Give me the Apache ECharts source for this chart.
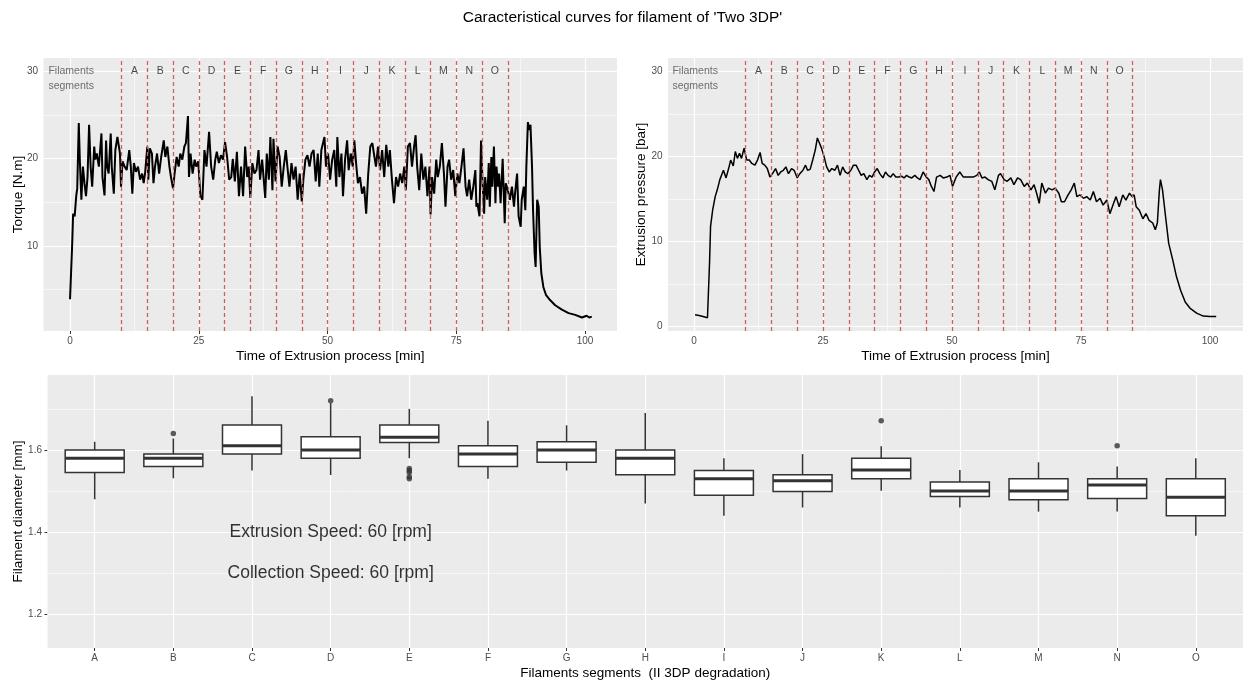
<!DOCTYPE html>
<html>
<head>
<meta charset="utf-8">
<script src="https://cdn.jsdelivr.net/npm/echarts@6/dist/echarts.min.js"></script>
<style>html,body{margin:0;padding:0;background:#fff}#chart{width:1245px;height:686px}</style>
</head>
<body>
<div id="chart"></div>
<script>
// ---------------- DATA ----------------
const titleText = "Caracteristical curves for filament of 'Two 3DP'";

const torqueTime = [0,0.4,0.6,0.9,1.2,1.4,1.7,1.9,2.2,2.5,2.8,3.1,3.4,3.7,4.0,4.3,4.7,4.9,5.2,5.6,6.1,6.3,6.7,7.0,7.2,7.5,7.9,8.1,8.5,8.8,9.2,9.4,9.7,9.9,10.2,10.6,11.0,11.5,11.8,12.1,12.4,12.8,13.2,13.6,14.0,14.3,14.6,15.0,15.2,15.5,15.9,16.2,16.5,16.9,17.3,17.7,18.2,18.5,18.9,19.3,19.6,20.0,20.3,20.7,21.1,21.4,21.8,22.2,22.5,22.9,23.1,23.4,23.8,24.2,24.5,24.9,25.3,25.7,26.1,26.5,27.0,27.4,27.8,28.2,28.5,28.9,29.3,29.7,30.1,30.5,30.9,31.3,31.6,32.0,32.4,32.8,33.2,33.6,34.0,34.4,34.7,35.0,35.4,35.8,36.2,36.6,36.9,37.3,37.9,38.2,38.6,38.9,39.3,39.5,39.9,40.3,40.7,41.1,41.5,41.9,42.2,42.6,43.0,43.4,43.8,44.2,44.6,45.0,45.3,45.7,46.1,46.5,46.9,47.3,47.7,48.1,48.4,48.8,49.4,49.7,50.1,50.5,50.9,51.3,51.7,51.9,52.3,52.7,53.0,53.4,53.8,54.1,54.5,54.9,55.2,55.6,55.9,56.3,56.7,57.1,57.5,57.9,58.3,58.7,59.0,59.4,59.8,60.2,60.6,61.0,61.4,61.8,62.1,62.5,62.9,63.3,63.7,64.1,64.5,64.9,65.2,65.6,66.0,66.4,66.8,67.1,67.4,67.8,68.2,68.6,69.0,69.4,69.8,70.0,70.3,70.7,71.1,71.4,71.8,72.2,72.6,72.9,73.3,73.6,74.0,74.4,74.8,75.2,75.6,76.0,76.4,76.8,77.1,77.5,77.9,78.3,78.7,78.9,79.1,79.5,79.8,80.1,80.4,80.6,81.0,81.3,81.5,81.8,82.0,82.3,82.6,82.8,83.1,83.3,83.6,84.0,84.4,84.6,85.0,85.4,85.8,86.2,86.4,86.8,87.1,87.5,87.7,88.1,88.4,88.6,88.9,89.1,89.4,89.7,89.9,90.2,90.4,90.7,91.0,91.2,91.5,91.9,92.4,93.2,94.2,95.5,96.8,98.1,99.4,100.3,100.8,101.3];
const torqueValue = [3.9,9.9,13.7,13.4,15.7,16.6,24.1,19.9,15.3,19.1,17.2,15.7,17.9,23.9,19.1,16.8,21.4,19.9,20.6,19.1,22.9,17.9,15.8,22.1,19.1,18.3,22.9,19.1,16.0,21.0,22.5,22.7,20.6,16.8,19.7,19.1,18.7,21.0,19.1,16.0,19.5,18.5,19.1,17.6,18.3,17.2,18.5,21.4,17.6,21.2,20.6,17.2,19.1,20.6,18.3,20.2,22.1,20.2,21.4,19.1,17.9,16.6,18.3,20.2,19.1,20.6,19.9,21.4,21.8,24.9,17.9,20.6,18.3,19.9,19.1,19.7,15.8,15.3,21.0,19.1,23.1,19.1,17.6,19.9,20.8,19.5,20.4,19.9,21.9,20.2,17.6,17.9,20.0,17.4,20.8,15.7,19.1,15.7,21.4,17.9,19.1,15.5,19.5,18.3,18.7,21.0,17.6,19.9,15.5,20.6,17.6,22.5,16.4,22.3,17.4,21.4,20.2,16.8,19.1,21.0,19.1,16.8,19.5,17.6,19.1,15.3,18.3,15.1,17.6,19.9,20.4,19.1,20.6,21.0,17.4,20.6,16.8,21.0,22.5,19.1,20.6,17.6,19.9,21.0,16.8,22.5,17.9,20.6,15.7,19.9,22.1,18.7,20.6,19.1,22.1,19.1,17.2,17.9,16.0,16.8,13.7,18.3,21.4,21.8,20.6,19.1,21.4,18.7,21.0,17.9,21.6,19.1,21.0,17.6,14.9,17.9,16.8,18.3,17.2,19.1,16.4,21.4,21.8,19.1,21.4,22.7,19.1,16.4,20.6,17.6,19.1,15.7,19.1,13.6,17.9,16.0,19.9,17.9,19.1,21.8,18.3,14.5,19.1,19.9,17.6,18.7,15.7,18.3,17.2,19.1,21.2,16.8,15.7,17.6,15.3,16.8,18.7,14.5,14.9,13.4,22.1,17.2,13.7,17.9,15.3,19.5,14.5,20.2,16.8,21.4,14.9,19.1,16.8,18.3,14.9,20.0,12.6,17.2,16.4,15.3,16.8,14.5,16.0,18.3,13.4,12.2,15.3,16.8,14.1,19.1,24.2,23.3,23.9,19.1,14.1,9.2,7.6,15.3,14.5,9.9,6.9,5.3,4.4,3.8,3.2,2.7,2.3,2.1,1.8,2.0,1.8,1.9];

const pressureTime = [0.2,1.2,2.6,3.0,3.2,3.6,4.1,4.5,5.0,5.7,6.2,6.7,7.1,7.6,8.0,8.4,8.8,9.2,9.7,10.2,10.7,11.2,11.8,12.3,12.8,13.2,13.7,14.2,14.7,15.2,15.8,16.3,16.8,17.3,17.8,18.3,18.9,19.4,20.0,20.5,21.1,21.6,22.0,22.5,23.0,23.5,23.9,24.3,24.7,25.2,25.7,26.2,26.7,27.3,27.8,28.3,28.8,29.3,29.8,30.4,30.9,31.4,31.9,32.4,32.9,33.5,34.0,34.5,35.0,35.5,36.0,36.6,37.1,37.6,38.1,38.6,39.1,39.7,40.2,40.7,41.2,41.7,42.2,42.8,43.3,43.8,44.4,45.0,45.5,46.0,46.5,47.0,47.7,48.3,49.0,49.6,50.1,50.8,51.5,52.2,53.2,54.1,54.8,55.3,55.8,56.4,57.0,57.7,58.3,59.0,59.4,60.1,60.7,61.4,62.0,62.7,63.3,64.0,64.6,65.3,65.9,66.4,66.9,67.4,68.1,68.7,69.4,70.0,70.7,71.2,71.8,72.5,73.1,73.7,74.2,74.8,75.5,76.1,76.8,77.4,78.0,78.7,79.3,80.0,80.6,81.3,81.8,82.4,83.1,83.7,84.4,84.9,85.3,85.7,86.3,87.0,87.6,88.2,88.9,89.4,89.8,90.2,90.4,90.8,91.4,92.0,92.8,93.5,94.3,95.2,96.1,97.4,98.7,100.0,101.2];
const pressureValue = [1.4,1.3,1.05,7.5,11.8,13.7,15.3,16.1,17.3,18.4,17.5,18.6,19.6,18.9,20.6,19.8,20.4,19.8,21.0,19.6,19.6,19.2,19.0,19.6,20.5,19.2,19.0,18.6,17.6,18.0,18.6,17.8,18.2,18.4,18.8,18.0,18.6,18.4,17.5,18.0,18.4,19.0,18.4,18.5,19.6,20.8,22.2,21.6,21.0,20.0,18.8,18.2,18.6,18.4,19.0,17.8,18.8,18.2,18.0,18.4,19.0,19.0,18.4,17.8,18.0,17.3,17.8,17.6,18.2,18.6,18.0,17.5,18.2,17.8,17.6,18.0,17.6,17.6,17.7,17.5,17.8,17.6,17.5,17.8,17.5,17.3,18.2,17.6,17.3,16.5,15.9,17.6,17.8,17.5,17.6,17.8,16.5,17.6,18.2,17.6,17.6,17.6,17.8,18.2,17.5,17.6,17.3,17.1,16.1,17.8,18.0,17.3,17.1,17.5,16.7,17.5,17.3,16.5,16.9,16.1,16.7,15.7,14.5,16.9,15.7,16.3,16.1,16.3,15.7,14.7,14.7,15.5,16.1,16.9,15.3,15.5,15.1,15.3,14.9,15.9,14.7,15.1,14.3,14.9,13.3,14.5,15.3,14.1,15.5,14.9,15.7,15.3,15.5,14.1,13.7,12.7,13.3,12.5,12.2,11.4,12.2,16.1,17.3,16.1,12.9,9.8,7.8,5.9,4.3,2.9,2.2,1.6,1.25,1.2,1.2];

const segmentBounds = [10,15,20,25,30,35,40,45,50,55,60,65,70,75,80,85];
const segmentLetters = ['A','B','C','D','E','F','G','H','I','J','K','L','M','N','O'];
const timeTicks = [0,25,50,75,100];
const timeMinor = [12.5,37.5,62.5,87.5];
const torqueTicks = [10,20,30];
const torqueMinor = [5,15,25];
const pressureTicks = [0,10,20,30];
const pressureMinor = [5,15,25];

const boxCategories = ['A','B','C','D','E','F','G','H','I','J','K','L','M','N','O'];
const boxLow  = [1.480,1.531,1.550,1.539,1.580,1.530,1.550,1.470,1.440,1.460,1.501,1.460,1.450,1.450,1.391];
const boxQ1   = [1.545,1.560,1.590,1.580,1.618,1.560,1.570,1.540,1.490,1.499,1.530,1.487,1.479,1.482,1.440];
const boxMed  = [1.580,1.580,1.610,1.600,1.631,1.590,1.600,1.580,1.530,1.525,1.551,1.500,1.500,1.515,1.485];
const boxQ3   = [1.600,1.590,1.661,1.632,1.661,1.610,1.620,1.600,1.550,1.540,1.580,1.522,1.530,1.530,1.530];
const boxHigh = [1.620,1.628,1.731,1.714,1.700,1.671,1.660,1.690,1.580,1.590,1.609,1.551,1.570,1.560,1.580];
const outlierCat   = ['B','D','E','E','E','E','E','K','N'];
const outlierValue = [1.640,1.720,1.555,1.550,1.545,1.535,1.530,1.671,1.610];
const diamTicks = [1.2,1.4,1.6];
const diamMinor = [1.3,1.5,1.7];
const annotations = [['Extrusion Speed: 60 [rpm]', 'D', 1.4], ['Collection Speed: 60 [rpm]', 'D', 1.3]];

// ---------------- BUILD ----------------
const FONT = 'Liberation Sans, Arial, Helvetica, sans-serif';
const torquePairs = torqueTime.map((t, i) => [t, torqueValue[i]]);
const pressurePairs = pressureTime.map((t, i) => [t, pressureValue[i]]);
const catPos = c => boxCategories.indexOf(c) + 1;

function gridLineData(xMaj, xMin, yMaj, yMin) {
  const d = [];
  xMin.forEach(v => d.push({xAxis: v, lineStyle: {width: 0.6}}));
  yMin.forEach(v => d.push({yAxis: v, lineStyle: {width: 0.6}}));
  xMaj.forEach(v => d.push({xAxis: v, lineStyle: {width: 1.2}}));
  yMaj.forEach(v => d.push({yAxis: v, lineStyle: {width: 1.2}}));
  return d;
}
function gridSeries(idx, xMaj, xMin, yMaj, yMin) {
  return {
    type: 'line', xAxisIndex: idx, yAxisIndex: idx, data: [], z: 1, silent: true,
    markLine: {
      z: 1, silent: true, symbol: ['none', 'none'], animation: false,
      label: {show: false}, emphasis: {disabled: true},
      lineStyle: {color: '#ffffff', type: 'solid'},
      data: gridLineData(xMaj, xMin, yMaj, yMin)
    }
  };
}
function segmentMark() {
  return {
    z: 4, silent: true, symbol: ['none', 'none'], animation: false,
    label: {show: false}, emphasis: {disabled: true},
    lineStyle: {color: '#CD6060', type: [4, 3], width: 1.3},
    data: segmentBounds.map(v => ({xAxis: v}))
  };
}
function letterSeries(idx) {
  const data = segmentLetters.map((l, i) => [(segmentBounds[i] + segmentBounds[i + 1]) / 2, 30, l]);
  return [{
    type: 'scatter', xAxisIndex: idx, yAxisIndex: idx, z: 6, silent: true,
    symbolSize: 0.1, itemStyle: {color: 'transparent'},
    data: data,
    label: {show: true, position: 'inside', formatter: p => p.data[2], fontFamily: FONT, fontSize: 10.5, color: '#1a1a1a'}
  }, {
    type: 'scatter', xAxisIndex: idx, yAxisIndex: idx, z: 6, silent: true,
    symbolSize: 0.1, itemStyle: {color: 'transparent'},
    data: [[-4.2, 30]],
    label: {show: true, position: 'inside', formatter: 'Filaments\nsegments', align: 'left', verticalAlign: 'top',
      offset: [0, -7.5], lineHeight: 15, fontFamily: FONT, fontSize: 10.5, color: '#4d4d4d'}
  }];
}
function valueAxis(gi, min, max, ticks, name, gap, isY, fmt) {
  return {
    type: 'value', gridIndex: gi, min: min, max: max,
    name: name, nameLocation: 'middle', nameGap: gap, nameMoveOverlap: false,
    nameRotate: isY ? 90 : 0,
    nameTextStyle: {fontFamily: FONT, fontSize: 13.5, color: '#000'},
    axisLine: {show: false},
    axisTick: {show: true, length: 3, lineStyle: {color: '#333', width: 1}, customValues: ticks},
    axisLabel: {show: true, customValues: ticks, margin: 5.5, fontFamily: FONT, fontSize: 10, color: '#4d4d4d',
      formatter: fmt || (v => String(v))},
    splitLine: {show: false}, minorTick: {show: false}, minorSplitLine: {show: false}
  };
}

const boxData = boxCategories.map((c, i) => [i + 1, boxLow[i], boxQ1[i], boxMed[i], boxQ3[i], boxHigh[i]]);
const outlierData = outlierCat.map((c, i) => [catPos(c), outlierValue[i]]);
const annotData = annotations.map(a => [catPos(a[1]), a[2], a[0]]);
const posTicks = boxCategories.map((c, i) => i + 1);

const gridBase = {show: true, backgroundColor: '#EBEBEB', borderWidth: 0, containLabel: false, outerBoundsMode: 'none'};

const option = {
  backgroundColor: '#ffffff',
  animation: false,
  title: {text: titleText, left: 'center', top: 5,
    textStyle: {fontFamily: FONT, fontSize: 15.5, fontWeight: 'normal', color: '#000'}},
  grid: [
    Object.assign({left: 43.5, top: 58, width: 573.5, height: 273}, gridBase),
    Object.assign({left: 668, top: 58, width: 575, height: 273}, gridBase),
    Object.assign({left: 47.5, top: 375, width: 1195.5, height: 273}, gridBase)
  ],
  xAxis: [
    valueAxis(0, -5.15, 106.2, timeTicks, 'Time of Extrusion process [min]', 18, false),
    valueAxis(1, -5.05, 106.4, timeTicks, 'Time of Extrusion process [min]', 18, false),
    valueAxis(2, 0.4, 15.6, posTicks, 'Filaments segments  (II 3DP degradation)', 18, false,
      v => boxCategories[Math.round(v) - 1] || '')
  ],
  yAxis: [
    valueAxis(0, 0.25, 31.55, torqueTicks, 'Torque [N.m]', 18.5, true),
    valueAxis(1, -0.5, 31.6, pressureTicks, 'Extrusion pressure [bar]', 20, true),
    valueAxis(2, 1.118, 1.7825, diamTicks, 'Filament diameter [mm]', 22, true, v => v.toFixed(1))
  ],
  series: [
    gridSeries(0, timeTicks, timeMinor, torqueTicks, torqueMinor),
    gridSeries(1, timeTicks, timeMinor, pressureTicks, pressureMinor),
    gridSeries(2, posTicks, [], diamTicks, diamMinor),
    {
      type: 'line', xAxisIndex: 0, yAxisIndex: 0, data: torquePairs, z: 3,
      showSymbol: false, symbol: 'none', lineStyle: {color: '#000', width: 2}, silent: true,
      markLine: segmentMark()
    },
    {
      type: 'line', xAxisIndex: 1, yAxisIndex: 1, data: pressurePairs, z: 3,
      showSymbol: false, symbol: 'none', lineStyle: {color: '#000', width: 1.5}, silent: true,
      markLine: segmentMark()
    },
    ...letterSeries(0),
    ...letterSeries(1),
    {
      type: 'custom', xAxisIndex: 2, yAxisIndex: 2, z: 3, silent: true,
      data: boxData,
      encode: {x: 0, y: [1, 2, 3, 4, 5]},
      renderItem: function (params, api) {
        const x = api.value(0);
        const pLo = api.coord([x, api.value(1)]);
        const pQ1 = api.coord([x, api.value(2)]);
        const pMed = api.coord([x, api.value(3)]);
        const pQ3 = api.coord([x, api.value(4)]);
        const pHi = api.coord([x, api.value(5)]);
        const half = api.size([0.75, 0])[0] / 2;
        const stroke = {stroke: '#333333', lineWidth: 1.5, fill: null};
        return {
          type: 'group',
          children: [
            {type: 'line', shape: {x1: pHi[0], y1: pHi[1], x2: pQ3[0], y2: pQ3[1]}, style: stroke},
            {type: 'line', shape: {x1: pQ1[0], y1: pQ1[1], x2: pLo[0], y2: pLo[1]}, style: stroke},
            {type: 'rect', shape: {x: pMed[0] - half, y: pQ3[1], width: half * 2, height: pQ1[1] - pQ3[1]},
              style: {fill: '#ffffff', stroke: '#333333', lineWidth: 1.5}},
            {type: 'line', shape: {x1: pMed[0] - half, y1: pMed[1], x2: pMed[0] + half, y2: pMed[1]},
              style: {stroke: '#333333', lineWidth: 3}}
          ]
        };
      }
    },
    {
      type: 'scatter', xAxisIndex: 2, yAxisIndex: 2, z: 4, silent: true,
      data: outlierData, symbolSize: 5.5, itemStyle: {color: '#333333'}
    },
    {
      type: 'scatter', xAxisIndex: 2, yAxisIndex: 2, z: 6, silent: true,
      symbolSize: 0.1, itemStyle: {color: 'transparent'},
      data: annotData,
      label: {show: true, position: 'inside', formatter: p => p.data[2], fontFamily: FONT, fontSize: 17.5, color: '#000'}
    }
  ]
};

const chart = echarts.init(document.getElementById('chart'), null, {renderer: 'canvas'});
chart.setOption(option);
</script>
</body>
</html>
